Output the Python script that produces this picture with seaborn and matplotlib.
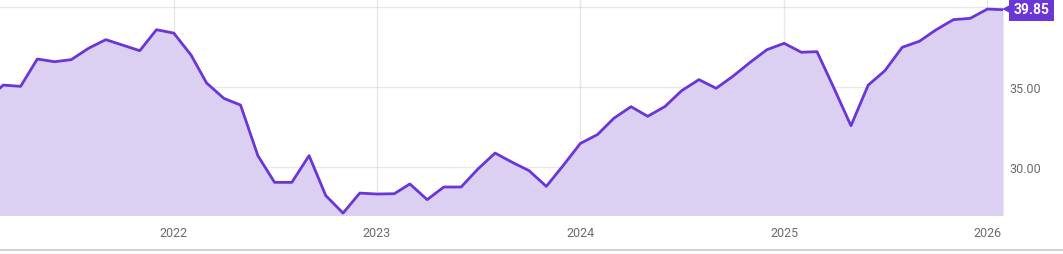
import matplotlib
matplotlib.use("Agg")
import matplotlib.pyplot as plt
from matplotlib.lines import Line2D
from matplotlib.transforms import offset_copy
import numpy as np
import pandas as pd
import seaborn as sns

# ---- data ----
month_starts = pd.date_range("2021-02-01", "2026-01-01", freq="MS")
last_date = pd.Timestamp("2026-01-29")
values = [
    34.3,                                                      # Feb 2021
    35.14, 35.06, 36.77, 36.60, 36.73, 37.44, 37.98, 37.64, 37.29, 38.60,  # Mar-Dec 2021
    38.39, 37.02, 35.27, 34.31, 33.89, 30.73, 29.06, 29.06, 30.73, 28.23, 27.14, 28.39,  # 2022
    28.33, 28.35, 28.96, 27.98, 28.77, 28.77, 29.89, 30.89, 30.31, 29.79, 28.81, 30.10,  # 2023
    31.49, 32.05, 33.06, 33.79, 33.19, 33.80, 34.79, 35.48, 34.94, 35.69, 36.56, 37.35,  # 2024
    37.75, 37.19, 37.23, 34.91, 32.60, 35.14, 36.04, 37.50, 37.88, 38.60, 39.23, 39.31,  # 2025
    39.89,                                                     # Jan 2026
    39.85,                                                     # latest
]
last_label = "39.85"
year_ticks = ["2022", "2023", "2024", "2025", "2026"]
y_ticks = [30, 35, 40]
y_tick_labels = ["30.00", "35.00", ""]

dates = list(month_starts) + [last_date]
df = pd.DataFrame({"date": dates, "value": values})

# ---- styling ----
LINE = "#6a36d8"
FILL = "#dcd0f2"
TEXT = "#6b6b6b"

sns.set_theme(style="white")
plt.rcParams["font.family"] = ["Roboto", "DejaVu Sans"]

W, H, DPI = 1063, 255, 100
fig = plt.figure(figsize=(W / DPI, H / DPI), dpi=DPI)
ax = fig.add_axes([0, 1 - 216 / H, 1003 / W, 216 / H])

ymin, ymax = 27.02, 40.52
ax.fill_between(df["date"], df["value"], ymin - 1, color=FILL, linewidth=0, zorder=1)
sns.lineplot(data=df, x="date", y="value", ax=ax, color=LINE, linewidth=2.0, zorder=4)

ax.set_xlim(pd.Timestamp("2021-02-23"), last_date)
ax.set_ylim(ymin, ymax)

ax.set_xticks([pd.Timestamp(f"{y}-01-01") for y in year_ticks])
ax.set_xticklabels(year_ticks)
ax.set_yticks(y_ticks)
ax.set_yticklabels(y_tick_labels)
ax.yaxis.tick_right()
ax.tick_params(axis="x", length=0, pad=8, labelsize=9, labelcolor=TEXT)
ax.tick_params(axis="y", length=0, pad=4.5, labelsize=9, labelcolor=TEXT)
ax.set_xlabel("")
ax.set_ylabel("")
for s in ax.spines.values():
    s.set_visible(False)

ax.grid(True, axis="both", color="black", alpha=0.09, linewidth=1.0)
for gl in ax.get_xgridlines() + ax.get_ygridlines():
    gl.set_zorder(2)

# latest value badge
lx, ly = df["date"].iloc[-1], df["value"].iloc[-1]
ax.plot([lx], [ly], marker="<", markersize=12.4, color=LINE, markeredgewidth=0,
        linestyle="none", clip_on=False, zorder=5,
        transform=offset_copy(ax.transData, fig=fig, x=7.5, y=0.3, units="dots"))
ax.annotate(
    last_label,
    xy=(lx, ly),
    xytext=(7.6, 0.2), textcoords="offset points",
    ha="left", va="center", color="white", fontweight="bold", fontsize=10,
    bbox=dict(boxstyle="square,pad=0.3", fc=LINE, ec="none"),
    annotation_clip=False, zorder=7,
)

# bottom rule
fig.add_artist(Line2D([0, 1], [1 - 250.5 / H] * 2, transform=fig.transFigure,
                      color="#d2d2d2", linewidth=1.5))

fig.savefig("out.png", dpi=DPI)
